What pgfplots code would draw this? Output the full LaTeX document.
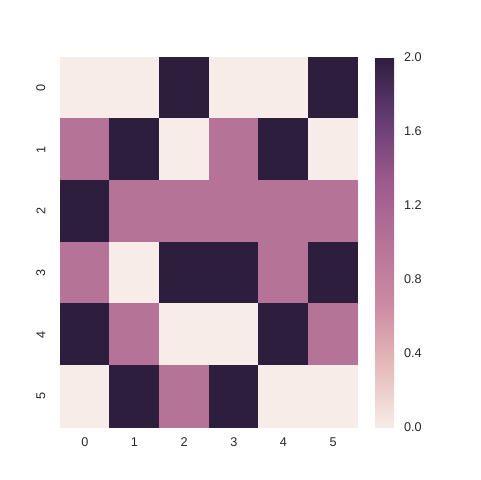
\documentclass[border=0pt]{standalone}
\usepackage{pgfplots}
\pgfplotsset{compat=1.18}
\usepackage{fontspec}
\setmainfont{Liberation Sans}
\definecolor{txt}{HTML}{262626}
\begin{document}
\begin{tikzpicture}[x=0.75pt,y=0.75pt]
\path[use as bounding box] (-60,-53) rectangle (420,427);
\begin{axis}[
    at={(0,0)}, anchor=south west,
    scale only axis,
    width=223.5pt, height=277.5pt,
    xmin=-0.5, xmax=5.5, ymin=-0.5, ymax=5.5,
    y dir=reverse,
    axis line style={draw=none},
    tick style={draw=none},
    xtick={0,...,5}, ytick={0,...,5},
    xticklabels={0,1,2,3,4,5}, yticklabels={0,1,2,3,4,5},
    tick label style={font=\fontsize{9.5}{11}\selectfont, text=txt},
    y tick label style={rotate=90, anchor=south, yshift=7.5pt},
    x tick label style={yshift=-4.5pt},
    colormap={seab}{rgb255=(247,236,231) rgb255=(229,186,186) rgb255=(203,138,162) rgb255=(181,115,152) rgb255=(156,90,141) rgb255=(100,60,115) rgb255=(45,30,62)},
    point meta min=0, point meta max=2,
    colorbar,
    colorbar style={
        at={(parent axis.north east)}, anchor=north west,
        xshift=4.5pt,
        width=14pt,
        axis line style={draw=none},
        tick style={draw=none},
        ytick={0,0.4,0.8,1.2,1.6,2.0},
        yticklabels={0.0,0.4,0.8,1.2,1.6,2.0},
        yticklabel style={font=\fontsize{9.5}{11}\selectfont, text=txt, xshift=4pt},
    },
]
\addplot[matrix plot*, mesh/cols=6, point meta=explicit] table[meta=c] {
x y c
0 0 0
1 0 0
2 0 2
3 0 0
4 0 0
5 0 2
0 1 1
1 1 2
2 1 0
3 1 1
4 1 2
5 1 0
0 2 2
1 2 1
2 2 1
3 2 1
4 2 1
5 2 1
0 3 1
1 3 0
2 3 2
3 3 2
4 3 1
5 3 2
0 4 2
1 4 1
2 4 0
3 4 0
4 4 2
5 4 1
0 5 0
1 5 2
2 5 1
3 5 2
4 5 0
5 5 0
};
\end{axis}
\end{tikzpicture}
\end{document}
